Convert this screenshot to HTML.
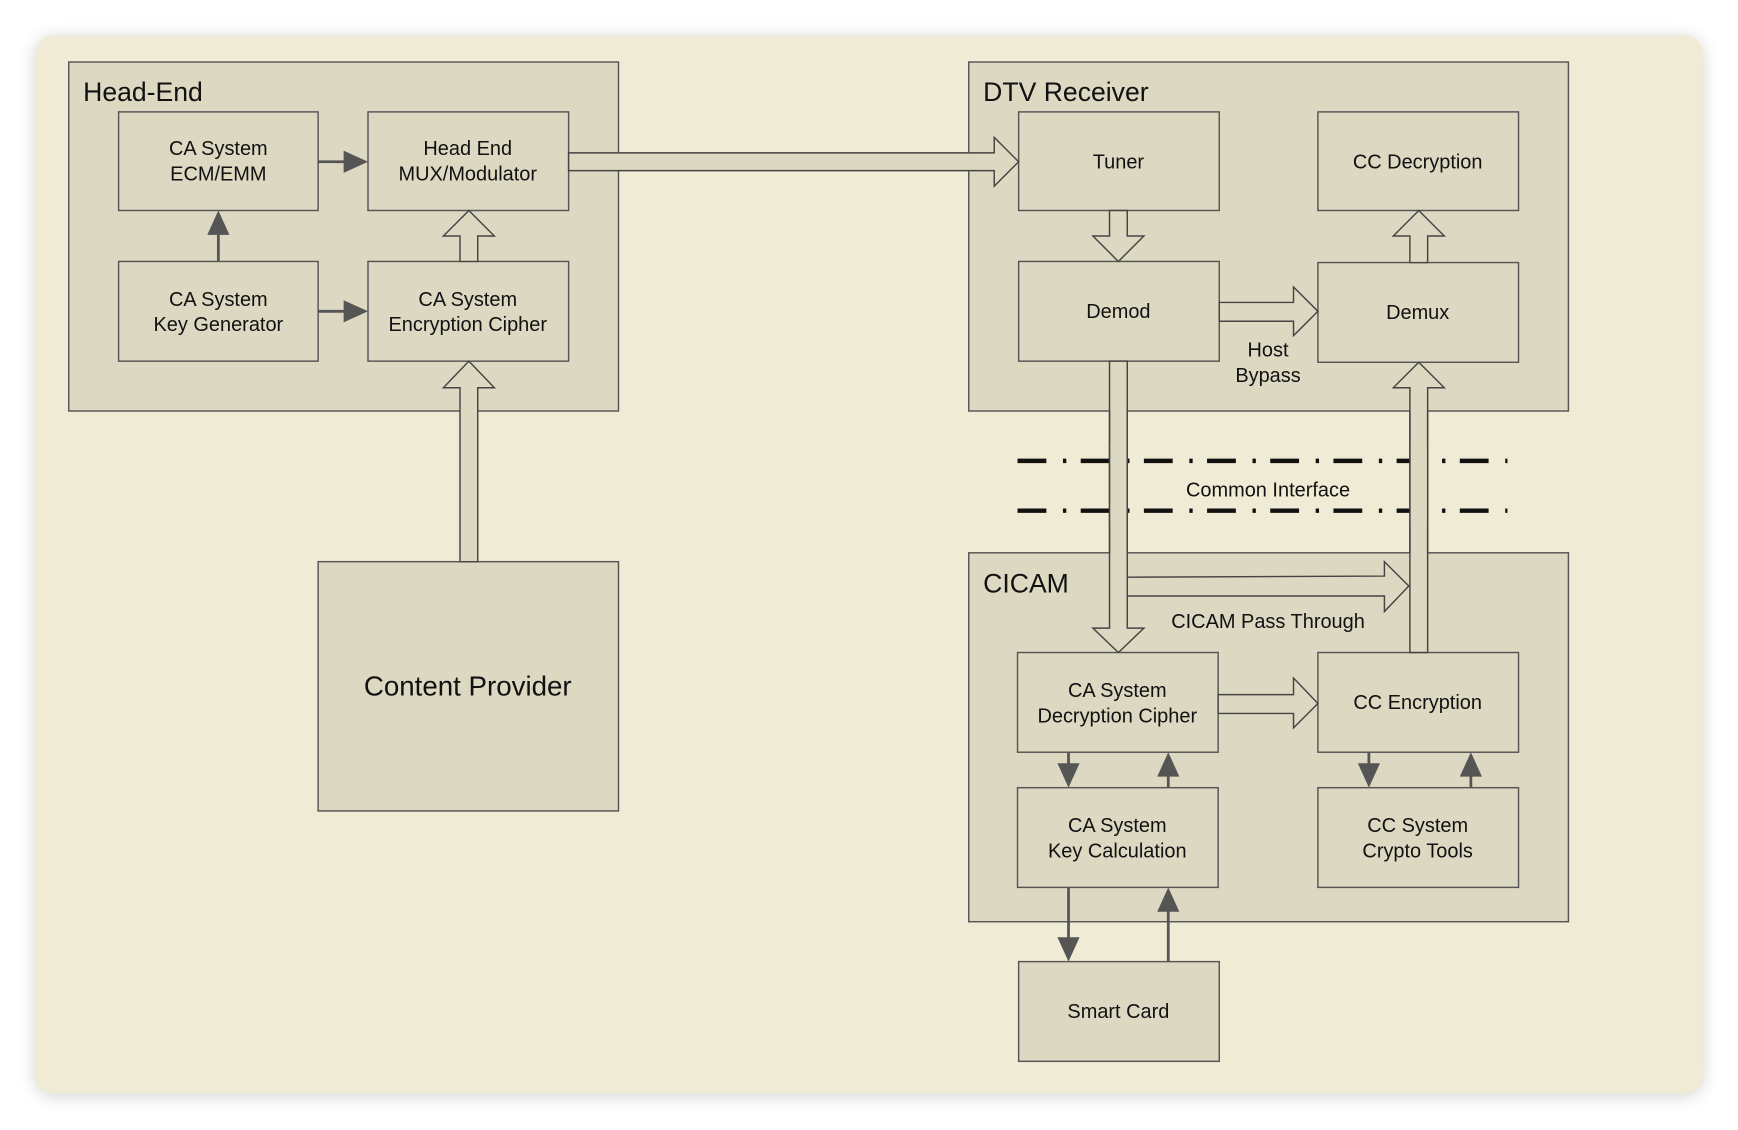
<!DOCTYPE html>
<html><head><style>
html,body{margin:0;padding:0;background:#fff;}
svg{display:block;}
text{font-family:"Liberation Sans",sans-serif;fill:#111;}
</style></head><body>
<svg width="1738" height="1130" viewBox="0 0 1568 1020" preserveAspectRatio="none" xmlns="http://www.w3.org/2000/svg">
<defs>
<filter id="sh" x="-5%" y="-5%" width="110%" height="110%"><feGaussianBlur stdDeviation="8"/></filter>
</defs>
<rect x="32" y="34" width="1504" height="955" rx="16" fill="#000" opacity="0.18" filter="url(#sh)"/>
<rect x="32" y="32" width="1504" height="955" rx="16" fill="#f0ebd5"/>
<g fill="#dcd8c1" stroke="#555" stroke-width="1.3">
<rect x="62" y="56" width="496" height="315"/>
<rect x="874" y="56" width="541" height="315"/>
<rect x="874" y="499" width="541" height="333"/>
<rect x="107" y="101" width="180" height="89"/>
<rect x="332" y="101" width="181" height="89"/>
<rect x="107" y="236" width="180" height="90"/>
<rect x="332" y="236" width="181" height="90"/>
<rect x="287" y="507" width="271" height="225"/>
<rect x="919" y="101" width="181" height="89"/>
<rect x="1189" y="101" width="181" height="89"/>
<rect x="919" y="236" width="181" height="90"/>
<rect x="1189" y="237" width="181" height="90"/>
<rect x="918" y="589" width="181" height="90"/>
<rect x="1189" y="589" width="181" height="90"/>
<rect x="918" y="711" width="181" height="90"/>
<rect x="1189" y="711" width="181" height="90"/>
<rect x="919" y="868" width="181" height="90"/>
</g>
<g fill="#dcd8c1" stroke="#444" stroke-width="1.3">
<polygon points="513,138 897,138 897,124 919,146 897,168 897,154 513,154"/>
<polygon points="415,236 415,213 400,213 423,190 446,213 431,213 431,236"/>
<polygon points="415,507 415,350 400,350 423,326 446,350 431,350 431,507"/>
<polygon points="1001,190 1001,213 986,213 1009,236 1032,213 1017,213 1017,190"/>
<polygon points="1272,237 1272,213 1257,213 1280,190 1303,213 1288,213 1288,237"/>
<polygon points="1100,273 1167,273 1167,259 1189,281 1167,303 1167,290 1100,290"/>
<polygon points="1272,589 1272,350 1257,350 1280,327 1303,350 1288,350 1288,589"/>
<polygon points="1017,521 1249,520 1249,507 1271,529 1249,552 1249,538 1017,538"/>
<polygon points="1001,326 1001,567 986,567 1009,589 1032,567 1017,567 1017,326"/>
<polygon points="1099,627 1167,627 1167,612 1189,635 1167,657 1167,644 1099,644"/>
</g>
<g stroke="#555" stroke-width="2.5" fill="none">
<line x1="197" y1="236" x2="197" y2="208"/>
<line x1="287" y1="146" x2="314" y2="146"/>
<line x1="287" y1="281" x2="314" y2="281"/>
<line x1="964" y1="679" x2="964" y2="695"/>
<line x1="1054" y1="711" x2="1054" y2="695"/>
<line x1="1235" y1="679" x2="1235" y2="695"/>
<line x1="1327" y1="711" x2="1327" y2="695"/>
<line x1="964" y1="801" x2="964" y2="850"/>
<line x1="1054" y1="868" x2="1054" y2="819"/>
</g>
<g fill="#555">
<polygon points="187,212 207,212 197,190"/>
<polygon points="310,136 310,156 332,146"/>
<polygon points="310,271 310,291 332,281"/>
<polygon points="954,689 974,689 964,711"/>
<polygon points="1044,701 1064,701 1054,679"/>
<polygon points="1225,689 1245,689 1235,711"/>
<polygon points="1317,701 1337,701 1327,679"/>
<polygon points="954,846 974,846 964,868"/>
<polygon points="1044,823 1064,823 1054,801"/>
</g>
<g stroke="#111" stroke-width="4" stroke-dasharray="26 15 3 13">
<line x1="918" y1="416" x2="1360" y2="416"/>
<line x1="918" y1="461" x2="1360" y2="461"/>
</g>
<rect x="1001.6" y="400" width="14.8" height="75" fill="#dcd8c1"/>
<rect x="1272.6" y="400" width="14.8" height="75" fill="#dcd8c1"/>
<g stroke="#444" stroke-width="1.3">
<line x1="1001" y1="371" x2="1001" y2="499"/><line x1="1017" y1="371" x2="1017" y2="499"/>
<line x1="1272" y1="371" x2="1272" y2="499"/><line x1="1288" y1="371" x2="1288" y2="499"/>
</g>
<g font-size="24">
<text x="75" y="91">Head-End</text>
<text x="887" y="91">DTV Receiver</text>
<text x="887" y="535">CICAM</text>
</g>
<g font-size="18" text-anchor="middle">
<text x="197" y="140">CA System</text><text x="197" y="163">ECM/EMM</text>
<text x="422" y="140">Head End</text><text x="422" y="163">MUX/Modulator</text>
<text x="197" y="276">CA System</text><text x="197" y="299">Key Generator</text>
<text x="422" y="276">CA System</text><text x="422" y="299">Encryption Cipher</text>
<text x="1009" y="152">Tuner</text>
<text x="1279" y="152">CC Decryption</text>
<text x="1009" y="287">Demod</text>
<text x="1279" y="288">Demux</text>
<text x="1144" y="322">Host</text><text x="1144" y="345">Bypass</text>
<text x="1144" y="448">Common Interface</text>
<text x="1144" y="567">CICAM Pass Through</text>
<text x="1008" y="629">CA System</text><text x="1008" y="652">Decryption Cipher</text>
<text x="1279" y="640">CC Encryption</text>
<text x="1008" y="751">CA System</text><text x="1008" y="774">Key Calculation</text>
<text x="1279" y="751">CC System</text><text x="1279" y="774">Crypto Tools</text>
<text x="1009" y="919">Smart Card</text>
</g>
<text x="422" y="628" font-size="25" text-anchor="middle">Content Provider</text>
</svg>
</body></html>
